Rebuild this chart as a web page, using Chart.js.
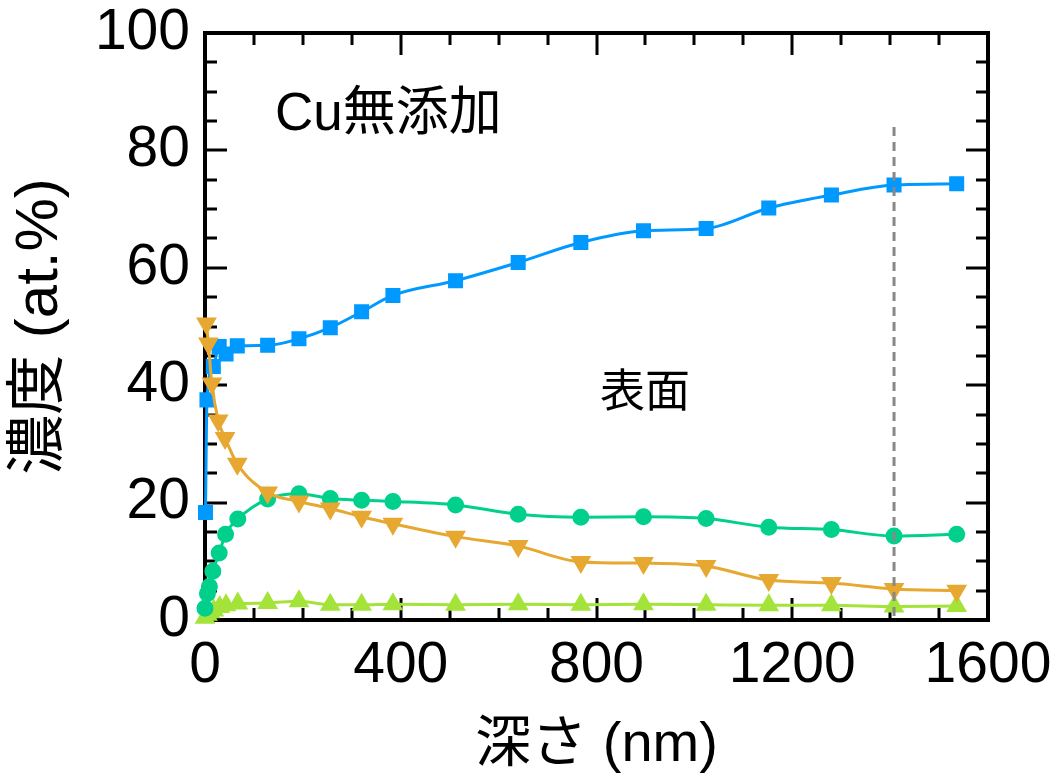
<!DOCTYPE html>
<html>
<head>
<meta charset="utf-8">
<script src="https://cdn.jsdelivr.net/npm/chart.js@4/dist/chart.umd.min.js"></script>
<style>
  html, body { margin: 0; background: #fff; }
  #wrap { width: 1051px; height: 779px; position: relative; }
</style>
</head>
<body>
<div id="wrap"><canvas id="chart"></canvas></div>
<script>
// depth (nm) and concentration (at.%)
const blueDepth = [1, 4, 17, 29, 43, 66, 128, 192, 256, 320, 384, 512, 640, 768, 896, 1024, 1152, 1280, 1408, 1536];
const blueConc = [18.3, 37.5, 43.2, 46.6, 45.3, 46.7, 46.8, 47.9, 49.8, 52.5, 55.3, 57.8, 60.9, 64.3, 66.3, 66.7, 70.2, 72.4, 74.1, 74.3];

const orangeDepth = [3, 7, 14, 27, 41, 66, 128, 192, 256, 320, 384, 512, 640, 768, 896, 1024, 1152, 1280, 1408, 1536];
const orangeConc = [50.5, 47.1, 40.3, 34.0, 31.0, 26.6, 21.7, 20.2, 19.0, 17.6, 16.4, 14.2, 12.6, 9.9, 9.7, 9.2, 6.8, 6.3, 5.3, 5.0];

const greenDepth = [0, 5, 9, 16, 29, 42, 67, 128, 192, 256, 320, 384, 512, 640, 768, 896, 1024, 1152, 1280, 1408, 1536];
const greenConc = [2.0, 4.5, 5.7, 8.3, 11.4, 14.6, 17.2, 20.6, 21.5, 20.7, 20.4, 20.2, 19.6, 18.0, 17.5, 17.6, 17.3, 15.8, 15.4, 14.3, 14.6];

const limeDepth = [0, 5, 10, 18, 30, 43, 67, 128, 192, 256, 320, 384, 512, 640, 768, 896, 1024, 1152, 1280, 1408, 1536];
const limeConc = [0.4, 0.9, 1.3, 1.6, 2.2, 2.5, 2.8, 2.9, 3.2, 2.6, 2.6, 2.7, 2.6, 2.7, 2.6, 2.7, 2.6, 2.5, 2.5, 2.3, 2.4];

const markerDepth = [1408, 1408];
const markerConc = [84, 0];

const xTickLabels = [0, 400, 800, 1200, 1600];
const yTickLabels = [0, 20, 40, 60, 80, 100];

const FONT = "'Liberation Sans', 'Noto Sans CJK JP', sans-serif";

function pairs(xs, ys) {
  return xs.map((x, i) => ({ x: x, y: ys[i] }));
}

// frame + inward ticks on all four sides
const frameTicks = {
  id: "frameTicks",
  beforeDatasetsDraw(chart) {
    const { ctx, chartArea: a, scales } = chart;
    const xs = scales.x, ys = scales.y;
    ctx.save();
    ctx.strokeStyle = "#000";
    ctx.lineWidth = 3;
    ctx.lineCap = "butt";
    ctx.beginPath();
    for (let v = 100; v < 1600; v += 100) {
      const px = Math.round(xs.getPixelForValue(v));
      const len = v % 400 === 0 ? 22 : 12;
      ctx.moveTo(px, a.bottom); ctx.lineTo(px, a.bottom - len);
      ctx.moveTo(px, a.top); ctx.lineTo(px, a.top + len);
    }
    for (let v = 5; v < 100; v += 5) {
      const py = Math.round(ys.getPixelForValue(v));
      const len = v % 20 === 0 ? 22 : 12;
      ctx.moveTo(a.left, py); ctx.lineTo(a.left + len, py);
      ctx.moveTo(a.right, py); ctx.lineTo(a.right - len, py);
    }
    ctx.stroke();
    ctx.lineWidth = 4;
    ctx.strokeRect(a.left, a.top, a.right - a.left, a.bottom - a.top);
    ctx.restore();
  }
};

// text labels inside the plot
const notes = {
  id: "notes",
  afterDatasetsDraw(chart) {
    const { ctx } = chart;
    ctx.save();
    ctx.fillStyle = "#000";
    ctx.textBaseline = "middle";
    ctx.textAlign = "left";
    ctx.font = "53px " + FONT;
    ctx.fillText("Cu無添加", 275, 115);
    ctx.font = "45px " + FONT;
    ctx.fillText("表面", 600, 395);
    ctx.restore();
  }
};

new Chart(document.getElementById("chart"), {
  type: "line",
  data: {
    datasets: [
      {
        data: pairs(markerDepth, markerConc),
        borderColor: "#888888",
        borderWidth: 3,
        borderDash: [9, 6],
        pointRadius: 0,
        tension: 0
      },
      {
        data: pairs(orangeDepth, orangeConc),
        borderColor: "#E6A830",
        backgroundColor: "#E6A830",
        borderWidth: 3,
        pointStyle: "triangle",
        rotation: 180,
        pointRadius: 9,
        cubicInterpolationMode: "monotone"
      },
      {
        data: pairs(greenDepth, greenConc),
        borderColor: "#00D08C",
        backgroundColor: "#00D08C",
        borderWidth: 3,
        pointStyle: "circle",
        pointRadius: 7,
        cubicInterpolationMode: "monotone"
      },
      {
        data: pairs(limeDepth, limeConc),
        borderColor: "#A4E43A",
        backgroundColor: "#A4E43A",
        borderWidth: 3,
        pointStyle: "triangle",
        pointRadius: 9,
        cubicInterpolationMode: "monotone"
      },
      {
        data: pairs(blueDepth, blueConc),
        borderColor: "#0099FF",
        backgroundColor: "#0099FF",
        borderWidth: 3,
        pointStyle: "rect",
        pointRadius: 8.5,
        cubicInterpolationMode: "monotone"
      }
    ]
  },
  options: {
    responsive: true,
    maintainAspectRatio: false,
    animation: false,
    clip: false,
    layout: { padding: { left: 0, right: 63, top: 33, bottom: 0 } },
    plugins: { legend: { display: false }, tooltip: { enabled: false } },
    elements: { point: { borderWidth: 0 } },
    scales: {
      x: {
        type: "linear",
        min: 0,
        max: 1600,
        afterBuildTicks(scale) { scale.ticks = xTickLabels.map((v) => ({ value: v })); },
        afterFit(scale) {
          scale.height = 159;
          scale.paddingLeft = 0; scale.paddingRight = 0;
        },
        grid: { display: false, drawTicks: false },
        border: { display: false },
        ticks: { color: "#000", font: { family: FONT, size: 57 }, padding: 12, maxRotation: 0, callback: (v) => String(v) },
        title: { display: true, text: "深さ (nm)", color: "#000", font: { family: FONT, size: 56 }, padding: { top: 0, bottom: 0 } }
      },
      y: {
        type: "linear",
        min: 0,
        max: 100,
        afterBuildTicks(scale) { scale.ticks = yTickLabels.map((v) => ({ value: v })); },
        afterFit(scale) {
          scale.width = 205;
          scale.paddingTop = 0; scale.paddingBottom = 0;
        },
        grid: { display: false, drawTicks: false },
        border: { display: false },
        ticks: { color: "#000", font: { family: FONT, size: 57 }, padding: 15, callback: (v) => String(v) },
        title: { display: true, text: "濃度 (at.%)", color: "#000", font: { family: FONT, size: 60 }, padding: { top: 4, bottom: 4 } }
      }
    }
  },
  plugins: [frameTicks, notes]
});
</script>
</body>
</html>
